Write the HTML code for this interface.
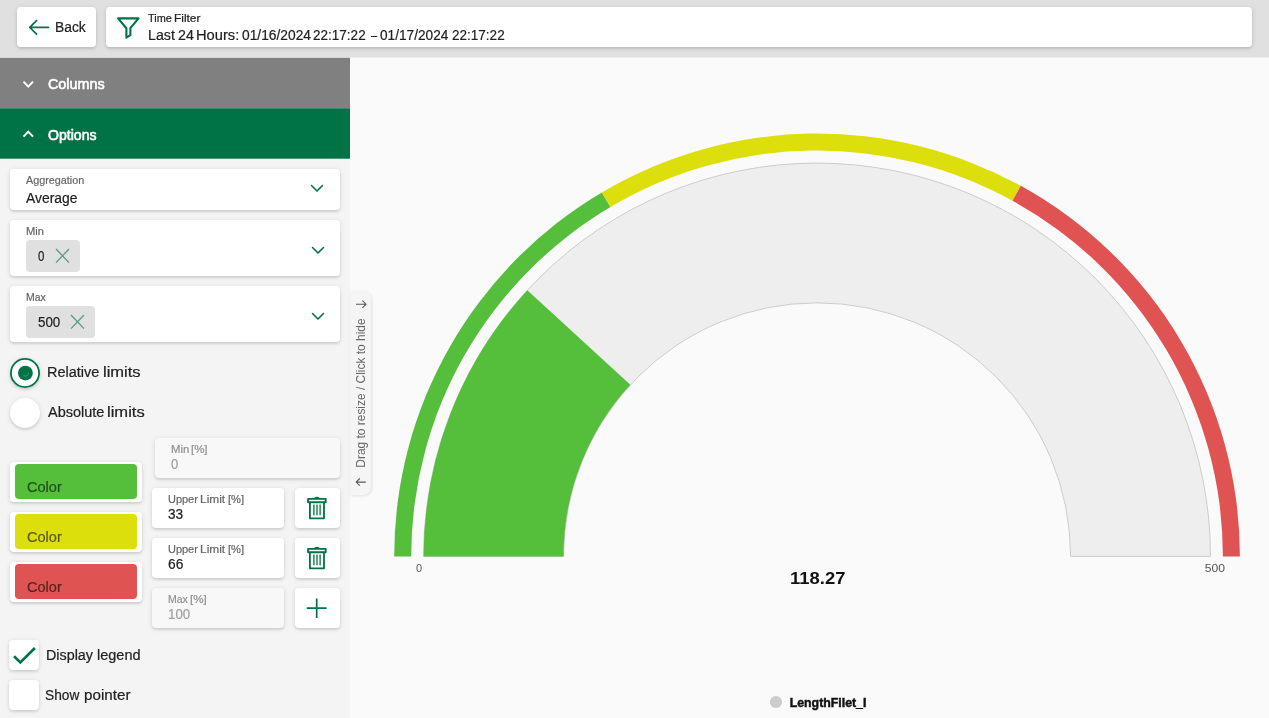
<!DOCTYPE html>
<html lang="en">
<head>
<meta charset="utf-8">
<title>Gauge Chart Options</title>
<style>
*{box-sizing:border-box;margin:0;padding:0}
html,body{width:1269px;height:718px;overflow:hidden;background:#fafafa;font-family:"Liberation Sans",Arial,sans-serif;color:#212121}
.abs{position:absolute}
.t{position:absolute;white-space:nowrap;line-height:1;transform-origin:0 50%;-webkit-text-stroke:.2px currentColor}
.topbar{position:absolute;left:0;top:0;width:1269px;height:58px;background:linear-gradient(#e0e0e0,#e0e0e0 57.5px,#ededed 57.5px,#ededed 58px)}
.card{position:absolute;background:#fff;border-radius:4px;box-shadow:0 1px 5px rgba(0,0,0,.13),0 2px 2px rgba(0,0,0,.07)}
.side{position:absolute;left:0;top:58px;width:350px;height:660px;background:#f4f4f4}
.hdr{position:absolute;left:0;width:350px}
.chip{position:absolute;background:#e0e0e0;border-radius:4px}
.dis{background:#f8f8f8}
.rad{width:30px;height:30px;border-radius:50%;background:#fff;box-shadow:0 1px 5px rgba(0,0,0,.13),0 2px 2px rgba(0,0,0,.07)}
.sw{position:absolute;left:15px;width:122px;height:35px;border-radius:4px}
</style>
</head>
<body>
<div class="topbar"></div>
<div class="card" style="left:17px;top:7px;width:79px;height:40px"></div>
<div class="card" style="left:106px;top:7px;width:1146px;height:40px"></div>
<svg class="abs" style="left:27px;top:18px" width="24" height="19" viewBox="27 18 24 19"><path d="M29.8 27.4H48.5M36.6 20.6L29.8 27.4L36.6 34.2" fill="none" stroke="#007346" stroke-width="1.7" stroke-linecap="round" stroke-linejoin="round"/></svg>
<svg class="abs" style="left:115px;top:15px" width="27" height="26" viewBox="115 15 27 26"><path d="M118.1 18.4H138.5L130.4 28.2V35.2L126.4 37.6V28.2Z" fill="none" stroke="#007346" stroke-width="2.1" stroke-linejoin="round"/></svg>

<div class="side"></div>
<svg class="abs" style="left:0;top:57px" width="350" height="103" viewBox="0 57 350 103"><rect x="0" y="57.8" width="350" height="50.6" fill="#808080"/><rect x="0" y="108.3" width="350" height="50.4" fill="#007346"/></svg>
<svg class="abs" style="left:21px;top:79px" width="14" height="11" viewBox="21 79 14 11"><path d="M23.5 81.6L28.25 86.6L33 81.6" fill="none" stroke="#fff" stroke-width="2"/></svg>
<svg class="abs" style="left:21px;top:128px" width="14" height="11" viewBox="21 128 14 11"><path d="M23.5 136.6L28.25 131.6L33 136.6" fill="none" stroke="#fff" stroke-width="2"/></svg>

<div class="card" style="left:10px;top:169px;width:330px;height:40.5px"></div>
<svg class="abs" style="left:310px;top:184px" width="14" height="9" viewBox="0 0 14 9"><path d="M1.5 1.5L7 7L12.5 1.5" fill="none" stroke="#007346" stroke-width="1.6" stroke-linecap="round" stroke-linejoin="round"/></svg>
<div class="card" style="left:10px;top:220.2px;width:330px;height:55.8px"></div>
<div class="chip" style="left:26px;top:240px;width:53.7px;height:31.8px"></div>
<svg class="abs" style="left:55.0px;top:248.2px" width="15" height="16" viewBox="0 0 15 16"><path d="M1 1L14 14.6M14 1L1 14.6" fill="none" stroke="#007346" stroke-opacity=".62" stroke-width="1.3"/></svg>
<svg class="abs" style="left:311px;top:246.3px" width="14" height="9" viewBox="0 0 14 9"><path d="M1.5 1.5L7 7L12.5 1.5" fill="none" stroke="#007346" stroke-width="1.6" stroke-linecap="round" stroke-linejoin="round"/></svg>
<div class="card" style="left:10px;top:286.4px;width:330px;height:55.8px"></div>
<div class="chip" style="left:26px;top:306px;width:68.8px;height:31.8px"></div>
<svg class="abs" style="left:69.9px;top:314.2px" width="15" height="16" viewBox="0 0 15 16"><path d="M1 1L14 14.6M14 1L1 14.6" fill="none" stroke="#007346" stroke-opacity=".62" stroke-width="1.3"/></svg>
<svg class="abs" style="left:311px;top:312px" width="14" height="9" viewBox="0 0 14 9"><path d="M1.5 1.5L7 7L12.5 1.5" fill="none" stroke="#007346" stroke-width="1.6" stroke-linecap="round" stroke-linejoin="round"/></svg>

<div class="abs rad" style="left:10px;top:358px"></div>
<svg class="abs" style="left:9px;top:357px" width="32" height="32" viewBox="9 357 32 32"><circle cx="25" cy="373" r="14.1" fill="none" stroke="#007346" stroke-width="1.8"/><circle cx="25.4" cy="373.1" r="7.4" fill="#007346"/><path d="M28.6 372.6A3.1 3.1 0 0 1 23.6 375.4" fill="none" stroke="#fff" stroke-opacity=".35" stroke-width=".8"/></svg>
<div class="abs rad" style="left:10px;top:398px"></div>

<div class="card" style="left:10px;top:462px;width:132px;height:39.7px"></div>
<div class="sw" style="top:464.1px;background:#55bf3b"></div>
<div class="card" style="left:10px;top:512px;width:132px;height:39.7px"></div>
<div class="sw" style="top:514.1px;background:#dddf0d"></div>
<div class="card" style="left:10px;top:562px;width:132px;height:39.7px"></div>
<div class="sw" style="top:564.1px;background:#df5353"></div>

<div class="card dis" style="left:154.8px;top:438.2px;width:185.2px;height:39.7px"></div>
<div class="card" style="left:152px;top:488px;width:131.8px;height:39.8px"></div>
<div class="card" style="left:294.8px;top:488px;width:45.4px;height:39.8px"></div>
<div class="card" style="left:152px;top:538px;width:131.8px;height:39.8px"></div>
<div class="card" style="left:294.8px;top:538px;width:45.4px;height:39.8px"></div>
<div class="card dis" style="left:152px;top:588px;width:131.8px;height:39.8px"></div>
<div class="card" style="left:294.8px;top:588px;width:45.4px;height:39.8px"></div>
<svg class="abs" style="left:305px;top:495px" width="24" height="26" viewBox="305 495 24 26"><g transform="translate(0 0)" fill="none" stroke="#007346" stroke-linejoin="round">
<rect x="308.1" y="498.9" width="17.6" height="3.3" stroke-width="1.9"/>
<path d="M309.9 502.4V518.3H324V502.4" stroke-width="1.8"/>
<path d="M314.7 498.2Q316.9 496.6 319.2 498.2" stroke-width="1.4"/>
<path d="M313.9 504.6V515.2M317 504.6V515.2M320.1 504.6V515.2" stroke-width="1.3"/>
</g></svg>
<svg class="abs" style="left:305px;top:545px" width="24" height="26" viewBox="305 545 24 26"><g transform="translate(0 50)" fill="none" stroke="#007346" stroke-linejoin="round">
<rect x="308.1" y="498.9" width="17.6" height="3.3" stroke-width="1.9"/>
<path d="M309.9 502.4V518.3H324V502.4" stroke-width="1.8"/>
<path d="M314.7 498.2Q316.9 496.6 319.2 498.2" stroke-width="1.4"/>
<path d="M313.9 504.6V515.2M317 504.6V515.2M320.1 504.6V515.2" stroke-width="1.3"/>
</g></svg>
<svg class="abs" style="left:305px;top:597px" width="24" height="23" viewBox="305 597 24 23"><path d="M316.7 598.4V618M306.8 608.2H326.6" fill="none" stroke="#007346" stroke-width="1.7"/></svg>

<div class="card" style="left:9px;top:640px;width:30px;height:29.7px"></div>
<svg class="abs" style="left:11px;top:644px" width="27" height="23" viewBox="11 644 27 23"><path d="M14 656.2L20.4 662.5L34.9 648" fill="none" stroke="#007346" stroke-width="2.6"/></svg>
<div class="card" style="left:9px;top:680px;width:30px;height:29.7px"></div>

<div class="abs" style="left:350px;top:291px;width:21px;height:203.5px;background:#f5f5f5;border-radius:0 8px 8px 0;box-shadow:1px 1px 3px rgba(0,0,0,.1)"></div>
<svg class="abs" style="left:354px;top:298px" width="14" height="12" viewBox="354 298 14 12"><path d="M356 304.2H366M362.4 300.6L366 304.2L362.4 307.8" fill="none" stroke="#5a5a5a" stroke-width="1.1"/></svg>
<svg class="abs" style="left:354px;top:476px" width="14" height="12" viewBox="354 476 14 12"><path d="M365.8 482.1H356.2M359.8 478.5L356.2 482.1L359.8 485.7" fill="none" stroke="#5a5a5a" stroke-width="1.1"/></svg>

<div class="t" style="left:54.87px;top:19.90px;font-size:14px;color:#212121;transform:scaleX(0.9868)">Back</div>
<div class="t" style="left:147.96px;top:12.85px;font-size:10.5px;color:#212121;transform:scaleX(1.0386)">Time</div>
<div class="t" style="left:173.83px;top:12.85px;font-size:10.5px;color:#212121;transform:scaleX(1.1302)">Filter</div>
<div class="t" style="left:147.63px;top:28.10px;font-size:14px;color:#212121;transform:scaleX(1.0154)">Last</div>
<div class="t" style="left:177.98px;top:28.10px;font-size:14px;color:#212121;transform:scaleX(1.0167)">24</div>
<div class="t" style="left:196.40px;top:28.10px;font-size:14px;color:#212121;transform:scaleX(1.0488)">Hours:</div>
<div class="t" style="left:241.56px;top:28.10px;font-size:14px;color:#212121;transform:scaleX(0.9854)">01/16/2024</div>
<div class="t" style="left:313.42px;top:28.10px;font-size:14px;color:#212121;transform:scaleX(0.9663)">22:17:22</div>
<div class="t" style="left:370.90px;top:28.10px;font-size:14px;color:#212121;transform:scaleX(0.7841)">–</div>
<div class="t" style="left:379.77px;top:28.10px;font-size:14px;color:#212121;transform:scaleX(0.9752)">01/17/2024</div>
<div class="t" style="left:451.62px;top:28.10px;font-size:14px;color:#212121;transform:scaleX(0.9663)">22:17:22</div>
<div class="t" style="left:47.67px;top:77.00px;font-size:14px;color:#ffffff;-webkit-text-stroke:.55px #fff;transform:scaleX(1.0255)">Columns</div>
<div class="t" style="left:47.73px;top:127.90px;font-size:14px;color:#ffffff;-webkit-text-stroke:.55px #fff;transform:scaleX(1.0068)">Options</div>
<div class="t" style="left:26.38px;top:174.85px;font-size:10.5px;color:#666666;transform:scaleX(1.0282)">Aggregation</div>
<div class="t" style="left:26.37px;top:191.00px;font-size:14px;color:#212121;transform:scaleX(0.9914)">Average</div>
<div class="t" style="left:25.89px;top:225.75px;font-size:10.5px;color:#666666;transform:scaleX(1.0601)">Min</div>
<div class="t" style="left:38.35px;top:248.80px;font-size:14px;color:#212121;transform:scaleX(0.8218)">0</div>
<div class="t" style="left:26.04px;top:291.65px;font-size:10.5px;color:#666666;transform:scaleX(0.9967)">Max</div>
<div class="t" style="left:38.06px;top:314.80px;font-size:14px;color:#212121;transform:scaleX(0.9550)">500</div>
<div class="t" style="left:47.41px;top:365.00px;font-size:14px;color:#212121;transform:scaleX(1.0347)">Relative</div>
<div class="t" style="left:102.79px;top:365.00px;font-size:14px;color:#212121;transform:scaleX(1.1796)">limits</div>
<div class="t" style="left:47.97px;top:404.80px;font-size:14px;color:#212121;transform:scaleX(1.0347)">Absolute</div>
<div class="t" style="left:107.48px;top:404.80px;font-size:14px;color:#212121;transform:scaleX(1.1829)">limits</div>
<div class="t" style="left:27.06px;top:479.90px;font-size:14px;color:rgba(0,0,0,.58);transform:scaleX(1.0396)">Color</div>
<div class="t" style="left:27.06px;top:529.90px;font-size:14px;color:rgba(0,0,0,.58);transform:scaleX(1.0396)">Color</div>
<div class="t" style="left:27.06px;top:579.90px;font-size:14px;color:rgba(0,0,0,.58);transform:scaleX(1.0396)">Color</div>
<div class="t" style="left:170.67px;top:443.55px;font-size:10.5px;color:#909090;transform:scaleX(1.0796)">Min</div>
<div class="t" style="left:191.38px;top:443.55px;font-size:10.5px;color:#909090;transform:scaleX(1.0897)">[%]</div>
<div class="t" style="left:171.09px;top:456.80px;font-size:14px;color:#a0a0a0;transform:scaleX(0.9264)">0</div>
<div class="t" style="left:167.66px;top:493.55px;font-size:10.5px;color:#666666;transform:scaleX(1.0430)">Upper</div>
<div class="t" style="left:199.82px;top:493.55px;font-size:10.5px;color:#666666;transform:scaleX(1.1351)">Limit</div>
<div class="t" style="left:228.11px;top:493.55px;font-size:10.5px;color:#666666;transform:scaleX(1.0604)">[%]</div>
<div class="t" style="left:167.78px;top:506.70px;font-size:14px;color:#212121;transform:scaleX(0.9706)">33</div>
<div class="t" style="left:167.66px;top:543.55px;font-size:10.5px;color:#666666;transform:scaleX(1.0430)">Upper</div>
<div class="t" style="left:199.82px;top:543.55px;font-size:10.5px;color:#666666;transform:scaleX(1.1351)">Limit</div>
<div class="t" style="left:228.11px;top:543.55px;font-size:10.5px;color:#666666;transform:scaleX(1.0604)">[%]</div>
<div class="t" style="left:167.60px;top:556.70px;font-size:14px;color:#212121;transform:scaleX(0.9827)">66</div>
<div class="t" style="left:167.64px;top:593.55px;font-size:10.5px;color:#909090;transform:scaleX(1.0020)">Max</div>
<div class="t" style="left:190.17px;top:593.55px;font-size:10.5px;color:#909090;transform:scaleX(1.1043)">[%]</div>
<div class="t" style="left:168.29px;top:606.70px;font-size:14px;color:#a0a0a0;transform:scaleX(0.9473)">100</div>
<div class="t" style="left:45.72px;top:647.80px;font-size:14px;color:#212121;transform:scaleX(1.0240)">Display</div>
<div class="t" style="left:96.72px;top:647.80px;font-size:14px;color:#212121;transform:scaleX(1.0349)">legend</div>
<div class="t" style="left:45.38px;top:688.10px;font-size:14px;color:#212121;transform:scaleX(0.9791)">Show</div>
<div class="t" style="left:83.72px;top:688.10px;font-size:14px;color:#212121;transform:scaleX(1.0847)">pointer</div>

<svg class="abs" style="left:350px;top:58px" width="919" height="660" viewBox="350 58 919 660" font-family="Liberation Sans, Arial, sans-serif">
<path d="M423.60 556.40A393.45 393.45 0 0 1 1210.50 556.40L1070.60 556.40A253.55 253.55 0 0 0 563.50 556.40Z" fill="#eeeeee" stroke="#cccccc" stroke-width="1"/>
<path d="M394.20 556.40A422.85 422.85 0 0 1 601.80 192.44L610.46 207.07A405.85 405.85 0 0 0 411.20 556.40Z" fill="#55bf3b"/>
<path d="M601.80 192.44A422.85 422.85 0 0 1 1020.76 185.85L1012.57 200.75A405.85 405.85 0 0 0 610.46 207.07Z" fill="#dddf0d"/>
<path d="M1020.76 185.85A422.85 422.85 0 0 1 1239.90 556.40L1222.90 556.40A405.85 405.85 0 0 0 1012.57 200.75Z" fill="#df5353"/>
<path d="M423.60 556.40A393.45 393.45 0 0 1 527.33 290.20L630.34 384.85A253.55 253.55 0 0 0 563.50 556.40Z" fill="#55bf3b"/>
<text x="416.1" y="572" font-size="11" fill="#555" textLength="6.1" lengthAdjust="spacingAndGlyphs">0</text>
<text x="1204.7" y="571.8" font-size="11" fill="#555" textLength="20.3" lengthAdjust="spacingAndGlyphs">500</text>
<text x="790.1" y="584" font-size="17" font-weight="bold" fill="#111" textLength="55.3" lengthAdjust="spacingAndGlyphs">118.27</text>
<circle cx="776" cy="702" r="6.1" fill="#cccccc"/>
<text x="789.7" y="706.8" font-size="12" font-weight="bold" fill="#111" stroke="#111" stroke-width=".45" textLength="76.7" lengthAdjust="spacingAndGlyphs">LengthFilet_I</text>
<text transform="translate(365 467.7) rotate(-90)" font-size="12" fill="#666" textLength="149.3" lengthAdjust="spacingAndGlyphs">Drag to resize / Click to hide</text>
</svg>
</body>
</html>
